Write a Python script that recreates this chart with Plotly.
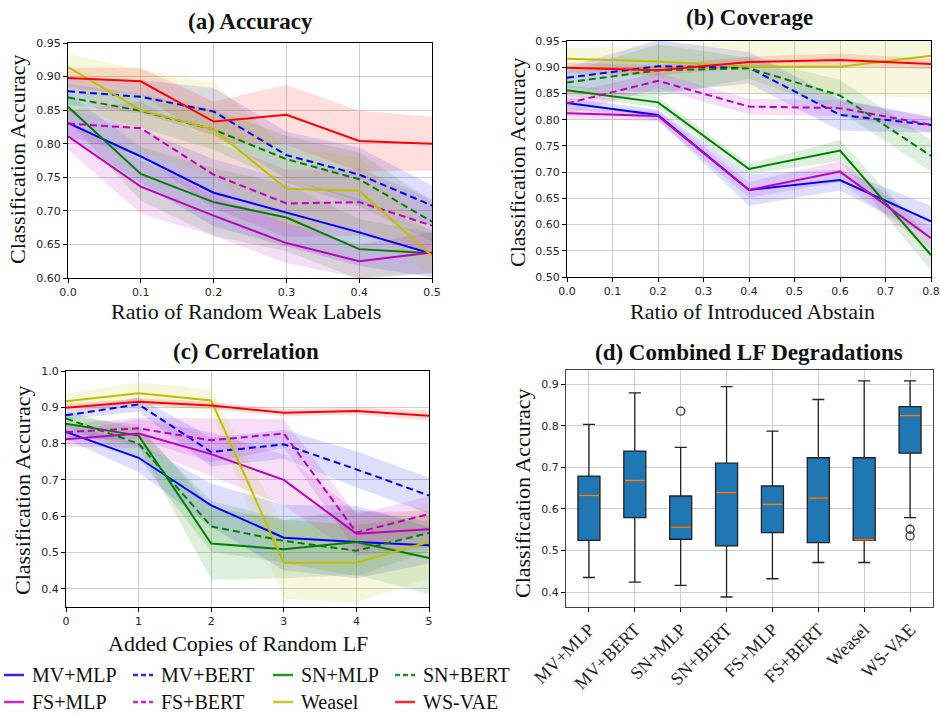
import plotly.graph_objects as go

# ---------------- data ----------------
methods = ["MV+MLP", "MV+BERT", "SN+MLP", "SN+BERT", "FS+MLP", "FS+BERT", "Weasel", "WS-VAE"]

# (a) Accuracy
acc_x = [0.0, 0.1, 0.2, 0.3, 0.4, 0.5]
acc_mean = {
    "MV+MLP":  [0.831, 0.781, 0.727, 0.697, 0.668, 0.636],
    "MV+BERT": [0.878, 0.870, 0.848, 0.783, 0.754, 0.708],
    "SN+MLP":  [0.855, 0.755, 0.713, 0.690, 0.643, 0.637],
    "SN+BERT": [0.869, 0.849, 0.821, 0.777, 0.747, 0.684],
    "FS+MLP":  [0.811, 0.736, 0.693, 0.652, 0.625, 0.638],
    "FS+BERT": [0.830, 0.823, 0.754, 0.711, 0.713, 0.678],
    "Weasel":  [0.914, 0.850, 0.821, 0.733, 0.730, 0.633],
    "WS-VAE":  [0.898, 0.893, 0.833, 0.843, 0.804, 0.800],
}
acc_sd = {
    "MV+MLP":  [0.02, 0.04, 0.05, 0.05, 0.05, 0.035],
    "MV+BERT": [0.02, 0.025, 0.035, 0.035, 0.04, 0.03],
    "SN+MLP":  [0.02, 0.04, 0.05, 0.05, 0.045, 0.03],
    "SN+BERT": [0.02, 0.025, 0.03, 0.035, 0.04, 0.03],
    "FS+MLP":  [0.02, 0.04, 0.03, 0.03, 0.025, 0.03],
    "FS+BERT": [0.02, 0.04, 0.05, 0.05, 0.05, 0.04],
    "Weasel":  [0.02, 0.06, 0.07, 0.06, 0.05, 0.03],
    "WS-VAE":  [0.015, 0.02, 0.03, 0.045, 0.045, 0.04],
}

# (b) Coverage
cov_x = [0.0, 0.2, 0.4, 0.6, 0.8]
cov_mean = {
    "MV+MLP":  [0.832, 0.809, 0.666, 0.685, 0.606],
    "MV+BERT": [0.880, 0.902, 0.899, 0.809, 0.790],
    "SN+MLP":  [0.856, 0.833, 0.706, 0.741, 0.542],
    "SN+BERT": [0.871, 0.894, 0.898, 0.846, 0.731],
    "FS+MLP":  [0.812, 0.807, 0.666, 0.701, 0.574],
    "FS+BERT": [0.831, 0.874, 0.825, 0.822, 0.790],
    "Weasel":  [0.916, 0.911, 0.901, 0.901, 0.922],
    "WS-VAE":  [0.899, 0.894, 0.910, 0.914, 0.906],
}
cov_sd = {
    "MV+MLP":  [0.01, 0.01, 0.03, 0.02, 0.03],
    "MV+BERT": [0.02, 0.05, 0.03, 0.03, 0.015],
    "SN+MLP":  [0.01, 0.01, 0.01, 0.02, 0.03],
    "SN+BERT": [0.02, 0.05, 0.02, 0.03, 0.03],
    "FS+MLP":  [0.01, 0.01, 0.015, 0.02, 0.02],
    "FS+BERT": [0.02, 0.015, 0.015, 0.015, 0.015],
    "Weasel":  [0.02, 0.03, 0.05, 0.055, 0.08],
    "WS-VAE":  [0.01, 0.01, 0.01, 0.012, 0.01],
}

# (c) Correlation
corr_x = [0, 1, 2, 3, 4, 5]
corr_mean = {
    "MV+MLP":  [0.832, 0.761, 0.630, 0.541, 0.529, 0.520],
    "MV+BERT": [0.878, 0.908, 0.777, 0.798, 0.729, 0.657],
    "SN+MLP":  [0.855, 0.822, 0.525, 0.509, 0.529, 0.485],
    "SN+BERT": [0.869, 0.800, 0.572, 0.532, 0.505, 0.554],
    "FS+MLP":  [0.812, 0.828, 0.771, 0.700, 0.552, 0.564],
    "FS+BERT": [0.832, 0.842, 0.809, 0.828, 0.555, 0.606],
    "Weasel":  [0.917, 0.939, 0.919, 0.472, 0.472, 0.529],
    "WS-VAE":  [0.899, 0.915, 0.905, 0.885, 0.890, 0.877],
}
corr_sd = {
    "MV+MLP":  [0.02, 0.04, 0.06, 0.09, 0.10, 0.05],
    "MV+BERT": [0.01, 0.02, 0.04, 0.04, 0.05, 0.05],
    "SN+MLP":  [0.02, 0.03, 0.10, 0.08, 0.09, 0.10],
    "SN+BERT": [0.02, 0.04, 0.07, 0.06, 0.07, 0.05],
    "FS+MLP":  [0.02, 0.04, 0.06, 0.07, 0.06, 0.05],
    "FS+BERT": [0.02, 0.03, 0.06, 0.04, 0.05, 0.05],
    "Weasel":  [0.02, 0.03, 0.03, 0.10, 0.11, 0.10],
    "WS-VAE":  [0.01, 0.01, 0.01, 0.01, 0.01, 0.015],
}

# (d) Combined LF degradations (box statistics)
box_hi  = [0.803, 0.879, 0.748, 0.894, 0.787, 0.863, 0.908, 0.908]
box_q3  = [0.679, 0.739, 0.631, 0.710, 0.655, 0.723, 0.723, 0.846]
box_med = [0.632, 0.668, 0.556, 0.639, 0.611, 0.626, 0.526, 0.824]
box_q1  = [0.524, 0.579, 0.527, 0.511, 0.543, 0.519, 0.524, 0.734]
box_lo  = [0.435, 0.424, 0.416, 0.388, 0.432, 0.471, 0.471, 0.579]
outlier_method = ["SN+MLP", "WS-VAE", "WS-VAE"]
outlier_value  = [0.835, 0.551, 0.535]

# ---------------- style ----------------
colors = {
    "MV+MLP": (0, 0, 255), "MV+BERT": (0, 0, 255),
    "SN+MLP": (0, 128, 0), "SN+BERT": (0, 128, 0),
    "FS+MLP": (191, 0, 191), "FS+BERT": (191, 0, 191),
    "Weasel": (191, 191, 0), "WS-VAE": (255, 0, 0),
}
dashed = {m: m.endswith("BERT") for m in methods}
SERIF = "Liberation Serif"
SANS = "DejaVu Sans"
W, H = 940, 715


def rgb(c, a=1.0):
    return f"rgba({c[0]},{c[1]},{c[2]},{a})"


def px(x):
    return x / W


def py(y):
    return 1 - y / H


fig = go.Figure()

panels = [
    ("x", "y", acc_x, acc_mean, acc_sd),
    ("x2", "y2", cov_x, cov_mean, cov_sd),
    ("x3", "y3", corr_x, corr_mean, corr_sd),
]
for xa, ya, xs, mean, sd in panels:
    for m in methods:
        up = [a + b for a, b in zip(mean[m], sd[m])]
        lo = [a - b for a, b in zip(mean[m], sd[m])]
        fig.add_trace(go.Scatter(
            x=list(xs) + list(xs)[::-1], y=up + lo[::-1], fill="toself",
            mode="none", fillcolor=rgb(colors[m], 0.13),
            hoverinfo="skip", showlegend=False, xaxis=xa, yaxis=ya))
    for m in methods:
        fig.add_trace(go.Scatter(
            x=xs, y=mean[m], mode="lines", name=m,
            line=dict(color=rgb(colors[m]), width=2,
                      dash="7px,4px" if dashed[m] else "solid"),
            showlegend=False, xaxis=xa, yaxis=ya))

# box plot
pos = list(range(1, len(methods) + 1))
BW = 0.48
fig.add_trace(go.Box(
    x=pos, q1=box_q1, median=box_med, q3=box_q3,
    lowerfence=box_lo, upperfence=box_hi, width=BW,
    fillcolor="#1f77b4", line=dict(color="#222222", width=1.3),
    whiskerwidth=0.55, boxpoints=False, showlegend=False,
    xaxis="x4", yaxis="y4"))
mx, my = [], []
for p, v in zip(pos, box_med):
    mx += [p - BW / 2 + 0.02, p + BW / 2 - 0.02, None]
    my += [v, v, None]
fig.add_trace(go.Scatter(x=mx, y=my, mode="lines",
                         line=dict(color="#ff7f0e", width=1.5),
                         showlegend=False, xaxis="x4", yaxis="y4"))
fig.add_trace(go.Scatter(
    x=[methods.index(m) + 1 for m in outlier_method], y=outlier_value,
    mode="markers",
    marker=dict(symbol="circle-open", size=8, color="#333333",
                line=dict(width=1.3)),
    showlegend=False, xaxis="x4", yaxis="y4"))

# ---------------- layout ----------------
tickfont = dict(family=SANS, size=11, color="#262626")
common = dict(showgrid=True, gridcolor="#cfcfcf", gridwidth=1,
              showline=True, linecolor="#000000", linewidth=1, mirror=True,
              ticks="outside", ticklen=4, tickcolor="#000000",
              tickfont=tickfont, zeroline=False, automargin=False)

boxes = {
    "a": (68, 432, 43, 278),
    "b": (567, 931, 41, 277),
    "c": (66, 429, 371, 607),
    "d": (566, 933, 370, 607),
}


def dom(b):
    x0, x1, y0, y1 = b
    return [px(x0), px(x1)], [py(y1), py(y0)]


da = dom(boxes["a"]); db = dom(boxes["b"]); dc = dom(boxes["c"]); dd = dom(boxes["d"])

fig.update_layout(
    width=W, height=H, margin=dict(l=0, r=0, t=0, b=0, autoexpand=False),
    paper_bgcolor="white", plot_bgcolor="white", showlegend=False,
    xaxis=dict(domain=da[0], anchor="y", range=[0, 0.5], dtick=0.1,
               tickformat=".1f", **common),
    yaxis=dict(domain=da[1], anchor="x", range=[0.6, 0.95], dtick=0.05,
               tickformat=".2f", **common),
    xaxis2=dict(domain=db[0], anchor="y2", range=[0, 0.8], dtick=0.1,
                tickformat=".1f", **common),
    yaxis2=dict(domain=db[1], anchor="x2", range=[0.5, 0.95], dtick=0.05,
                tickformat=".2f", **common),
    xaxis3=dict(domain=dc[0], anchor="y3", range=[0, 5], dtick=1, **common),
    yaxis3=dict(domain=dc[1], anchor="x3", range=[0.35, 1.0],
                tickvals=[0.4, 0.5, 0.6, 0.7, 0.8, 0.9, 1.0],
                tickformat=".1f", **common),
    xaxis4=dict(domain=dd[0], anchor="y4", range=[0.5, 8.5],
                tickvals=pos, ticktext=methods, tickangle=-45,
                **{**common, "linecolor": "#444444",
                   "tickfont": dict(family=SERIF, size=18, color="#222222")}),
    yaxis4=dict(domain=dd[1], anchor="x4", range=[0.364, 0.934],
                tickvals=[0.4, 0.5, 0.6, 0.7, 0.8, 0.9], tickformat=".1f",
                **{**common, "linecolor": "#444444"}),
)

ann = []
titles = [("(a) Accuracy", 250, 21), ("(b) Coverage", 749, 18),
          ("(c) Correlation", 246, 351), ("(d) Combined LF Degradations", 749, 352)]
for t, x, y in titles:
    ann.append(dict(text=f"<b>{t}</b>", x=px(x), y=py(y), xref="paper", yref="paper",
                    xanchor="center", yanchor="middle", showarrow=False,
                    font=dict(family=SERIF, size=23, color="#111111")))
xt = [("Ratio of Random Weak Labels", 246, 312), ("Ratio of Introduced Abstain", 752, 312),
      ("Added Copies of Random LF", 238, 643)]
for t, x, y in xt:
    ann.append(dict(text=t, x=px(x), y=py(y), xref="paper", yref="paper",
                    xanchor="center", yanchor="middle", showarrow=False,
                    font=dict(family=SERIF, size=22, color="#111111")))
yt = [(17, 159), (517, 162), (22, 490), (522, 493)]
for x, y in yt:
    ann.append(dict(text="Classification Accuracy", x=px(x), y=py(y), xref="paper",
                    yref="paper", xanchor="center", yanchor="middle", textangle=-90,
                    showarrow=False, font=dict(family=SERIF, size=22, color="#111111")))

# manual legend below panel (c)
leg_x = [4, 133, 273, 395]
leg_y = [675, 702]
shapes = []
for i, m in enumerate(methods):
    r, c = divmod(i, 4)
    x0 = leg_x[c]
    y0 = leg_y[r]
    shapes.append(dict(type="line", xref="paper", yref="paper",
                       x0=px(x0), x1=px(x0 + 20), y0=py(y0), y1=py(y0),
                       line=dict(color=rgb(colors[m], 0.85), width=2.5,
                                 dash="5px,3px" if dashed[m] else "solid")))
    ann.append(dict(text=m, x=px(x0 + 26), y=py(y0), xref="paper", yref="paper",
                    xanchor="left", yanchor="middle", showarrow=False,
                    font=dict(family=SERIF, size=20, color="#111111")))

fig.update_layout(annotations=ann, shapes=shapes)
fig.write_html("out.html")
